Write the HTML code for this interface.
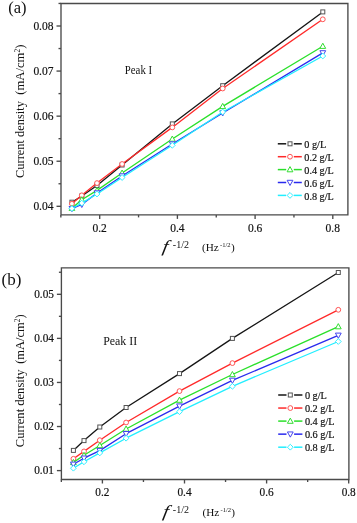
<!DOCTYPE html>
<html><head><meta charset="utf-8"><title>Current density vs f^-1/2</title><style>
html,body{margin:0;padding:0;background:#fff;width:357px;height:523px;overflow:hidden}
svg{display:block;will-change:transform}
text{font-family:"Liberation Serif", serif;fill:#111;stroke:#111;stroke-width:0} .tk text,text.tk{stroke-width:0.2px}
</style></head><body>
<svg width="357" height="523" viewBox="0 0 357 523">
<rect width="357" height="523" fill="#fff"/>
<path d="M61.0,3.5 H347.9 V214.9 H61.0 Z" fill="none" stroke="#4a4a4a" stroke-width="1.35"/>
<line x1="56.5" y1="206.30" x2="61.0" y2="206.30" stroke="#4a4a4a" stroke-width="1.35"/>
<text class="tk" x="53.5" y="210.00" font-size="12.65" textLength="20.12" lengthAdjust="spacingAndGlyphs" text-anchor="end">0.04</text>
<line x1="56.5" y1="161.23" x2="61.0" y2="161.23" stroke="#4a4a4a" stroke-width="1.35"/>
<text class="tk" x="53.5" y="164.93" font-size="12.65" textLength="20.12" lengthAdjust="spacingAndGlyphs" text-anchor="end">0.05</text>
<line x1="56.5" y1="116.15" x2="61.0" y2="116.15" stroke="#4a4a4a" stroke-width="1.35"/>
<text class="tk" x="53.5" y="119.85" font-size="12.65" textLength="20.12" lengthAdjust="spacingAndGlyphs" text-anchor="end">0.06</text>
<line x1="56.5" y1="71.07" x2="61.0" y2="71.07" stroke="#4a4a4a" stroke-width="1.35"/>
<text class="tk" x="53.5" y="74.77" font-size="12.65" textLength="20.12" lengthAdjust="spacingAndGlyphs" text-anchor="end">0.07</text>
<line x1="56.5" y1="26.00" x2="61.0" y2="26.00" stroke="#4a4a4a" stroke-width="1.35"/>
<text class="tk" x="53.5" y="29.70" font-size="12.65" textLength="20.12" lengthAdjust="spacingAndGlyphs" text-anchor="end">0.08</text>
<line x1="58.5" y1="183.76" x2="61.0" y2="183.76" stroke="#4a4a4a" stroke-width="1.35"/>
<line x1="58.5" y1="138.69" x2="61.0" y2="138.69" stroke="#4a4a4a" stroke-width="1.35"/>
<line x1="58.5" y1="93.61" x2="61.0" y2="93.61" stroke="#4a4a4a" stroke-width="1.35"/>
<line x1="58.5" y1="48.54" x2="61.0" y2="48.54" stroke="#4a4a4a" stroke-width="1.35"/>
<line x1="58.5" y1="3.46" x2="61.0" y2="3.46" stroke="#4a4a4a" stroke-width="1.35"/>
<line x1="99.70" y1="214.9" x2="99.70" y2="218.9" stroke="#4a4a4a" stroke-width="1.35"/>
<text class="tk" x="99.70" y="231.7" font-size="12.65" textLength="14.38" lengthAdjust="spacingAndGlyphs" text-anchor="middle">0.2</text>
<line x1="177.40" y1="214.9" x2="177.40" y2="218.9" stroke="#4a4a4a" stroke-width="1.35"/>
<text class="tk" x="177.40" y="231.7" font-size="12.65" textLength="14.38" lengthAdjust="spacingAndGlyphs" text-anchor="middle">0.4</text>
<line x1="255.10" y1="214.9" x2="255.10" y2="218.9" stroke="#4a4a4a" stroke-width="1.35"/>
<text class="tk" x="255.10" y="231.7" font-size="12.65" textLength="14.38" lengthAdjust="spacingAndGlyphs" text-anchor="middle">0.6</text>
<line x1="332.80" y1="214.9" x2="332.80" y2="218.9" stroke="#4a4a4a" stroke-width="1.35"/>
<text class="tk" x="332.80" y="231.7" font-size="12.65" textLength="14.38" lengthAdjust="spacingAndGlyphs" text-anchor="middle">0.8</text>
<line x1="60.85" y1="214.9" x2="60.85" y2="217.4" stroke="#4a4a4a" stroke-width="1.35"/>
<line x1="138.55" y1="214.9" x2="138.55" y2="217.4" stroke="#4a4a4a" stroke-width="1.35"/>
<line x1="216.25" y1="214.9" x2="216.25" y2="217.4" stroke="#4a4a4a" stroke-width="1.35"/>
<line x1="293.95" y1="214.9" x2="293.95" y2="217.4" stroke="#4a4a4a" stroke-width="1.35"/>
<polyline points="71.90,202.20 81.80,196.00 97.00,185.50 122.10,165.00 172.30,123.90 222.70,85.70 322.80,11.90" fill="none" stroke="#151515" stroke-width="1.3" stroke-linejoin="round"/>
<rect x="69.90" y="200.20" width="4.00" height="4.00" fill="#fff" stroke="#555555" stroke-width="1.0"/><rect x="79.80" y="194.00" width="4.00" height="4.00" fill="#fff" stroke="#555555" stroke-width="1.0"/><rect x="95.00" y="183.50" width="4.00" height="4.00" fill="#fff" stroke="#555555" stroke-width="1.0"/><rect x="120.10" y="163.00" width="4.00" height="4.00" fill="#fff" stroke="#555555" stroke-width="1.0"/><rect x="170.30" y="121.90" width="4.00" height="4.00" fill="#fff" stroke="#555555" stroke-width="1.0"/><rect x="220.70" y="83.70" width="4.00" height="4.00" fill="#fff" stroke="#555555" stroke-width="1.0"/><rect x="320.80" y="9.90" width="4.00" height="4.00" fill="#fff" stroke="#555555" stroke-width="1.0"/>
<polyline points="71.90,203.80 81.80,195.30 97.00,183.10 122.10,164.00 172.30,127.40 222.70,88.50 322.80,19.30" fill="none" stroke="#ff2a2a" stroke-width="1.3" stroke-linejoin="round"/>
<circle cx="71.90" cy="203.80" r="2.40" fill="#fff" stroke="#ff5555" stroke-width="1.0"/><circle cx="81.80" cy="195.30" r="2.40" fill="#fff" stroke="#ff5555" stroke-width="1.0"/><circle cx="97.00" cy="183.10" r="2.40" fill="#fff" stroke="#ff5555" stroke-width="1.0"/><circle cx="122.10" cy="164.00" r="2.40" fill="#fff" stroke="#ff5555" stroke-width="1.0"/><circle cx="172.30" cy="127.40" r="2.40" fill="#fff" stroke="#ff5555" stroke-width="1.0"/><circle cx="222.70" cy="88.50" r="2.40" fill="#fff" stroke="#ff5555" stroke-width="1.0"/><circle cx="322.80" cy="19.30" r="2.40" fill="#fff" stroke="#ff5555" stroke-width="1.0"/>
<polyline points="71.90,208.20 81.80,199.70 97.00,190.40 122.10,173.00 172.30,139.00 222.70,106.40 322.80,46.20" fill="none" stroke="#2ae02a" stroke-width="1.3" stroke-linejoin="round"/>
<path d="M71.90,205.20 L74.80,210.40 L69.00,210.40 Z" fill="#fff" stroke="#33dd33" stroke-width="1.0" stroke-linejoin="miter"/><path d="M81.80,196.70 L84.70,201.90 L78.90,201.90 Z" fill="#fff" stroke="#33dd33" stroke-width="1.0" stroke-linejoin="miter"/><path d="M97.00,187.40 L99.90,192.60 L94.10,192.60 Z" fill="#fff" stroke="#33dd33" stroke-width="1.0" stroke-linejoin="miter"/><path d="M122.10,170.00 L125.00,175.20 L119.20,175.20 Z" fill="#fff" stroke="#33dd33" stroke-width="1.0" stroke-linejoin="miter"/><path d="M172.30,136.00 L175.20,141.20 L169.40,141.20 Z" fill="#fff" stroke="#33dd33" stroke-width="1.0" stroke-linejoin="miter"/><path d="M222.70,103.40 L225.60,108.60 L219.80,108.60 Z" fill="#fff" stroke="#33dd33" stroke-width="1.0" stroke-linejoin="miter"/><path d="M322.80,43.20 L325.70,48.40 L319.90,48.40 Z" fill="#fff" stroke="#33dd33" stroke-width="1.0" stroke-linejoin="miter"/>
<polyline points="71.90,208.70 81.80,204.50 97.00,193.00 122.10,176.00 172.30,144.00 222.70,113.00 322.80,52.90" fill="none" stroke="#2a2aee" stroke-width="1.3" stroke-linejoin="round"/>
<path d="M71.90,211.70 L74.80,206.50 L69.00,206.50 Z" fill="#fff" stroke="#4444ee" stroke-width="1.0"/><path d="M81.80,207.50 L84.70,202.30 L78.90,202.30 Z" fill="#fff" stroke="#4444ee" stroke-width="1.0"/><path d="M97.00,196.00 L99.90,190.80 L94.10,190.80 Z" fill="#fff" stroke="#4444ee" stroke-width="1.0"/><path d="M122.10,179.00 L125.00,173.80 L119.20,173.80 Z" fill="#fff" stroke="#4444ee" stroke-width="1.0"/><path d="M172.30,147.00 L175.20,141.80 L169.40,141.80 Z" fill="#fff" stroke="#4444ee" stroke-width="1.0"/><path d="M222.70,116.00 L225.60,110.80 L219.80,110.80 Z" fill="#fff" stroke="#4444ee" stroke-width="1.0"/><path d="M322.80,55.90 L325.70,50.70 L319.90,50.70 Z" fill="#fff" stroke="#4444ee" stroke-width="1.0"/>
<polyline points="71.90,208.50 81.80,203.10 97.00,194.00 122.10,177.50 172.30,145.30 222.70,112.00 322.80,56.00" fill="none" stroke="#22eeff" stroke-width="1.3" stroke-linejoin="round"/>
<path d="M71.90,205.60 L74.80,208.50 L71.90,211.40 L69.00,208.50 Z" fill="#fff" stroke="#33eeff" stroke-width="1.0"/><path d="M81.80,200.20 L84.70,203.10 L81.80,206.00 L78.90,203.10 Z" fill="#fff" stroke="#33eeff" stroke-width="1.0"/><path d="M97.00,191.10 L99.90,194.00 L97.00,196.90 L94.10,194.00 Z" fill="#fff" stroke="#33eeff" stroke-width="1.0"/><path d="M122.10,174.60 L125.00,177.50 L122.10,180.40 L119.20,177.50 Z" fill="#fff" stroke="#33eeff" stroke-width="1.0"/><path d="M172.30,142.40 L175.20,145.30 L172.30,148.20 L169.40,145.30 Z" fill="#fff" stroke="#33eeff" stroke-width="1.0"/><path d="M222.70,109.10 L225.60,112.00 L222.70,114.90 L219.80,112.00 Z" fill="#fff" stroke="#33eeff" stroke-width="1.0"/><path d="M322.80,53.10 L325.70,56.00 L322.80,58.90 L319.90,56.00 Z" fill="#fff" stroke="#33eeff" stroke-width="1.0"/>
<line x1="277.8" y1="143.80" x2="286.2" y2="143.80" stroke="#151515" stroke-width="1.5"/>
<line x1="293.8" y1="143.80" x2="301.8" y2="143.80" stroke="#151515" stroke-width="1.5"/>
<rect x="288.00" y="141.80" width="4.00" height="4.00" fill="#fff" stroke="#555555" stroke-width="1.0"/>
<text class="tk" x="304.3" y="147.90" font-size="11.22" textLength="21.82" lengthAdjust="spacingAndGlyphs">0 g/L</text>
<line x1="277.8" y1="156.70" x2="286.2" y2="156.70" stroke="#ff2a2a" stroke-width="1.5"/>
<line x1="293.8" y1="156.70" x2="301.8" y2="156.70" stroke="#ff2a2a" stroke-width="1.5"/>
<circle cx="290.00" cy="156.70" r="2.40" fill="#fff" stroke="#ff5555" stroke-width="1.0"/>
<text class="tk" x="304.3" y="160.80" font-size="11.22" textLength="29.47" lengthAdjust="spacingAndGlyphs">0.2 g/L</text>
<line x1="277.8" y1="169.60" x2="286.2" y2="169.60" stroke="#2ae02a" stroke-width="1.5"/>
<line x1="293.8" y1="169.60" x2="301.8" y2="169.60" stroke="#2ae02a" stroke-width="1.5"/>
<path d="M290.00,166.60 L292.90,171.80 L287.10,171.80 Z" fill="#fff" stroke="#33dd33" stroke-width="1.0" stroke-linejoin="miter"/>
<text class="tk" x="304.3" y="173.70" font-size="11.22" textLength="29.47" lengthAdjust="spacingAndGlyphs">0.4 g/L</text>
<line x1="277.8" y1="182.50" x2="286.2" y2="182.50" stroke="#2a2aee" stroke-width="1.5"/>
<line x1="293.8" y1="182.50" x2="301.8" y2="182.50" stroke="#2a2aee" stroke-width="1.5"/>
<path d="M290.00,185.50 L292.90,180.30 L287.10,180.30 Z" fill="#fff" stroke="#4444ee" stroke-width="1.0"/>
<text class="tk" x="304.3" y="186.60" font-size="11.22" textLength="29.47" lengthAdjust="spacingAndGlyphs">0.6 g/L</text>
<line x1="277.8" y1="195.40" x2="286.2" y2="195.40" stroke="#22eeff" stroke-width="1.5"/>
<line x1="293.8" y1="195.40" x2="301.8" y2="195.40" stroke="#22eeff" stroke-width="1.5"/>
<path d="M290.00,192.50 L292.90,195.40 L290.00,198.30 L287.10,195.40 Z" fill="#fff" stroke="#33eeff" stroke-width="1.0"/>
<text class="tk" x="304.3" y="199.50" font-size="11.22" textLength="29.47" lengthAdjust="spacingAndGlyphs">0.8 g/L</text>
<text x="8.3" y="12.8" font-size="16.5">(a)</text><text class="tk" x="124.8" y="73.6" font-size="11.88" textLength="27.29" lengthAdjust="spacingAndGlyphs" style="stroke-width:0">Peak I</text><g transform="translate(24.0,177.9) rotate(-90)"><text x="0" y="0" font-size="12.4">Current density</text><text x="83.20" y="0" font-size="12.65">(mA/cm<tspan font-size="7.5" dy="-3.6">2</tspan><tspan dy="3.6">)</tspan></text></g><text transform="translate(161.8,251.5) skewX(-10) scale(1.2,1)" x="0" y="0" font-size="17" font-style="italic" style="stroke-width:0">f</text><text x="172.8" y="248" font-size="10">-1/2</text><text x="202" y="250.5" font-size="11.2">(Hz</text><text x="220" y="246.5" font-size="6.6">-1/2</text><text x="231" y="250.5" font-size="11.2">)</text>
<path d="M61.4,267.9 H348.9 V479.5 H61.4 Z" fill="none" stroke="#4a4a4a" stroke-width="1.35"/>
<line x1="56.9" y1="470.60" x2="61.4" y2="470.60" stroke="#4a4a4a" stroke-width="1.35"/>
<text class="tk" x="54.0" y="474.30" font-size="12.43" textLength="19.78" lengthAdjust="spacingAndGlyphs" text-anchor="end">0.01</text>
<line x1="56.9" y1="426.53" x2="61.4" y2="426.53" stroke="#4a4a4a" stroke-width="1.35"/>
<text class="tk" x="54.0" y="430.23" font-size="12.43" textLength="19.78" lengthAdjust="spacingAndGlyphs" text-anchor="end">0.02</text>
<line x1="56.9" y1="382.45" x2="61.4" y2="382.45" stroke="#4a4a4a" stroke-width="1.35"/>
<text class="tk" x="54.0" y="386.15" font-size="12.43" textLength="19.78" lengthAdjust="spacingAndGlyphs" text-anchor="end">0.03</text>
<line x1="56.9" y1="338.38" x2="61.4" y2="338.38" stroke="#4a4a4a" stroke-width="1.35"/>
<text class="tk" x="54.0" y="342.07" font-size="12.43" textLength="19.78" lengthAdjust="spacingAndGlyphs" text-anchor="end">0.04</text>
<line x1="56.9" y1="294.30" x2="61.4" y2="294.30" stroke="#4a4a4a" stroke-width="1.35"/>
<text class="tk" x="54.0" y="298.00" font-size="12.43" textLength="19.78" lengthAdjust="spacingAndGlyphs" text-anchor="end">0.05</text>
<line x1="58.9" y1="448.56" x2="61.4" y2="448.56" stroke="#4a4a4a" stroke-width="1.35"/>
<line x1="58.9" y1="404.49" x2="61.4" y2="404.49" stroke="#4a4a4a" stroke-width="1.35"/>
<line x1="58.9" y1="360.41" x2="61.4" y2="360.41" stroke="#4a4a4a" stroke-width="1.35"/>
<line x1="58.9" y1="316.34" x2="61.4" y2="316.34" stroke="#4a4a4a" stroke-width="1.35"/>
<line x1="58.9" y1="272.26" x2="61.4" y2="272.26" stroke="#4a4a4a" stroke-width="1.35"/>
<line x1="102.40" y1="479.5" x2="102.40" y2="483.5" stroke="#4a4a4a" stroke-width="1.35"/>
<text class="tk" x="102.40" y="496" font-size="12.43" textLength="14.12" lengthAdjust="spacingAndGlyphs" text-anchor="middle">0.2</text>
<line x1="184.50" y1="479.5" x2="184.50" y2="483.5" stroke="#4a4a4a" stroke-width="1.35"/>
<text class="tk" x="184.50" y="496" font-size="12.43" textLength="14.12" lengthAdjust="spacingAndGlyphs" text-anchor="middle">0.4</text>
<line x1="266.60" y1="479.5" x2="266.60" y2="483.5" stroke="#4a4a4a" stroke-width="1.35"/>
<text class="tk" x="266.60" y="496" font-size="12.43" textLength="14.12" lengthAdjust="spacingAndGlyphs" text-anchor="middle">0.6</text>
<line x1="348.70" y1="479.5" x2="348.70" y2="483.5" stroke="#4a4a4a" stroke-width="1.35"/>
<text class="tk" x="348.70" y="496" font-size="12.43" textLength="14.12" lengthAdjust="spacingAndGlyphs" text-anchor="middle">0.8</text>
<line x1="61.35" y1="479.5" x2="61.35" y2="482.0" stroke="#4a4a4a" stroke-width="1.35"/>
<line x1="143.45" y1="479.5" x2="143.45" y2="482.0" stroke="#4a4a4a" stroke-width="1.35"/>
<line x1="225.55" y1="479.5" x2="225.55" y2="482.0" stroke="#4a4a4a" stroke-width="1.35"/>
<line x1="307.65" y1="479.5" x2="307.65" y2="482.0" stroke="#4a4a4a" stroke-width="1.35"/>
<polyline points="73.40,450.40 84.00,440.60 99.80,427.00 126.10,407.50 179.50,373.60 232.40,338.40 338.30,272.50" fill="none" stroke="#151515" stroke-width="1.3" stroke-linejoin="round"/>
<rect x="71.40" y="448.40" width="4.00" height="4.00" fill="#fff" stroke="#555555" stroke-width="1.0"/><rect x="82.00" y="438.60" width="4.00" height="4.00" fill="#fff" stroke="#555555" stroke-width="1.0"/><rect x="97.80" y="425.00" width="4.00" height="4.00" fill="#fff" stroke="#555555" stroke-width="1.0"/><rect x="124.10" y="405.50" width="4.00" height="4.00" fill="#fff" stroke="#555555" stroke-width="1.0"/><rect x="177.50" y="371.60" width="4.00" height="4.00" fill="#fff" stroke="#555555" stroke-width="1.0"/><rect x="230.40" y="336.40" width="4.00" height="4.00" fill="#fff" stroke="#555555" stroke-width="1.0"/><rect x="336.30" y="270.50" width="4.00" height="4.00" fill="#fff" stroke="#555555" stroke-width="1.0"/>
<polyline points="73.40,458.80 84.00,451.40 99.80,440.20 126.10,422.50 179.50,391.10 232.40,363.10 338.30,309.80" fill="none" stroke="#ff2a2a" stroke-width="1.3" stroke-linejoin="round"/>
<circle cx="73.40" cy="458.80" r="2.40" fill="#fff" stroke="#ff5555" stroke-width="1.0"/><circle cx="84.00" cy="451.40" r="2.40" fill="#fff" stroke="#ff5555" stroke-width="1.0"/><circle cx="99.80" cy="440.20" r="2.40" fill="#fff" stroke="#ff5555" stroke-width="1.0"/><circle cx="126.10" cy="422.50" r="2.40" fill="#fff" stroke="#ff5555" stroke-width="1.0"/><circle cx="179.50" cy="391.10" r="2.40" fill="#fff" stroke="#ff5555" stroke-width="1.0"/><circle cx="232.40" cy="363.10" r="2.40" fill="#fff" stroke="#ff5555" stroke-width="1.0"/><circle cx="338.30" cy="309.80" r="2.40" fill="#fff" stroke="#ff5555" stroke-width="1.0"/>
<polyline points="73.40,462.40 84.00,455.30 99.80,445.50 126.10,429.00 179.50,400.10 232.40,374.50 338.30,326.60" fill="none" stroke="#2ae02a" stroke-width="1.3" stroke-linejoin="round"/>
<path d="M73.40,459.40 L76.30,464.60 L70.50,464.60 Z" fill="#fff" stroke="#33dd33" stroke-width="1.0" stroke-linejoin="miter"/><path d="M84.00,452.30 L86.90,457.50 L81.10,457.50 Z" fill="#fff" stroke="#33dd33" stroke-width="1.0" stroke-linejoin="miter"/><path d="M99.80,442.50 L102.70,447.70 L96.90,447.70 Z" fill="#fff" stroke="#33dd33" stroke-width="1.0" stroke-linejoin="miter"/><path d="M126.10,426.00 L129.00,431.20 L123.20,431.20 Z" fill="#fff" stroke="#33dd33" stroke-width="1.0" stroke-linejoin="miter"/><path d="M179.50,397.10 L182.40,402.30 L176.60,402.30 Z" fill="#fff" stroke="#33dd33" stroke-width="1.0" stroke-linejoin="miter"/><path d="M232.40,371.50 L235.30,376.70 L229.50,376.70 Z" fill="#fff" stroke="#33dd33" stroke-width="1.0" stroke-linejoin="miter"/><path d="M338.30,323.60 L341.20,328.80 L335.40,328.80 Z" fill="#fff" stroke="#33dd33" stroke-width="1.0" stroke-linejoin="miter"/>
<polyline points="73.40,464.30 84.00,458.20 99.80,450.60 126.10,433.70 179.50,406.10 232.40,380.40 338.30,335.30" fill="none" stroke="#2a2aee" stroke-width="1.3" stroke-linejoin="round"/>
<path d="M73.40,467.30 L76.30,462.10 L70.50,462.10 Z" fill="#fff" stroke="#4444ee" stroke-width="1.0"/><path d="M84.00,461.20 L86.90,456.00 L81.10,456.00 Z" fill="#fff" stroke="#4444ee" stroke-width="1.0"/><path d="M99.80,453.60 L102.70,448.40 L96.90,448.40 Z" fill="#fff" stroke="#4444ee" stroke-width="1.0"/><path d="M126.10,436.70 L129.00,431.50 L123.20,431.50 Z" fill="#fff" stroke="#4444ee" stroke-width="1.0"/><path d="M179.50,409.10 L182.40,403.90 L176.60,403.90 Z" fill="#fff" stroke="#4444ee" stroke-width="1.0"/><path d="M232.40,383.40 L235.30,378.20 L229.50,378.20 Z" fill="#fff" stroke="#4444ee" stroke-width="1.0"/><path d="M338.30,338.30 L341.20,333.10 L335.40,333.10 Z" fill="#fff" stroke="#4444ee" stroke-width="1.0"/>
<polyline points="73.40,468.20 84.00,461.80 99.80,452.90 126.10,438.20 179.50,411.70 232.40,386.30 338.30,341.50" fill="none" stroke="#22eeff" stroke-width="1.3" stroke-linejoin="round"/>
<path d="M73.40,465.30 L76.30,468.20 L73.40,471.10 L70.50,468.20 Z" fill="#fff" stroke="#33eeff" stroke-width="1.0"/><path d="M84.00,458.90 L86.90,461.80 L84.00,464.70 L81.10,461.80 Z" fill="#fff" stroke="#33eeff" stroke-width="1.0"/><path d="M99.80,450.00 L102.70,452.90 L99.80,455.80 L96.90,452.90 Z" fill="#fff" stroke="#33eeff" stroke-width="1.0"/><path d="M126.10,435.30 L129.00,438.20 L126.10,441.10 L123.20,438.20 Z" fill="#fff" stroke="#33eeff" stroke-width="1.0"/><path d="M179.50,408.80 L182.40,411.70 L179.50,414.60 L176.60,411.70 Z" fill="#fff" stroke="#33eeff" stroke-width="1.0"/><path d="M232.40,383.40 L235.30,386.30 L232.40,389.20 L229.50,386.30 Z" fill="#fff" stroke="#33eeff" stroke-width="1.0"/><path d="M338.30,338.60 L341.20,341.50 L338.30,344.40 L335.40,341.50 Z" fill="#fff" stroke="#33eeff" stroke-width="1.0"/>
<line x1="278.2" y1="395.00" x2="286.5" y2="395.00" stroke="#151515" stroke-width="1.5"/>
<line x1="294.1" y1="395.00" x2="302.4" y2="395.00" stroke="#151515" stroke-width="1.5"/>
<rect x="288.30" y="393.00" width="4.00" height="4.00" fill="#fff" stroke="#555555" stroke-width="1.0"/>
<text class="tk" x="304.9" y="398.90" font-size="11.33" textLength="22.03" lengthAdjust="spacingAndGlyphs">0 g/L</text>
<line x1="278.2" y1="408.05" x2="286.5" y2="408.05" stroke="#ff2a2a" stroke-width="1.5"/>
<line x1="294.1" y1="408.05" x2="302.4" y2="408.05" stroke="#ff2a2a" stroke-width="1.5"/>
<circle cx="290.30" cy="408.05" r="2.40" fill="#fff" stroke="#ff5555" stroke-width="1.0"/>
<text class="tk" x="304.9" y="411.95" font-size="11.33" textLength="29.76" lengthAdjust="spacingAndGlyphs">0.2 g/L</text>
<line x1="278.2" y1="421.10" x2="286.5" y2="421.10" stroke="#2ae02a" stroke-width="1.5"/>
<line x1="294.1" y1="421.10" x2="302.4" y2="421.10" stroke="#2ae02a" stroke-width="1.5"/>
<path d="M290.30,418.10 L293.20,423.30 L287.40,423.30 Z" fill="#fff" stroke="#33dd33" stroke-width="1.0" stroke-linejoin="miter"/>
<text class="tk" x="304.9" y="425.00" font-size="11.33" textLength="29.76" lengthAdjust="spacingAndGlyphs">0.4 g/L</text>
<line x1="278.2" y1="434.15" x2="286.5" y2="434.15" stroke="#2a2aee" stroke-width="1.5"/>
<line x1="294.1" y1="434.15" x2="302.4" y2="434.15" stroke="#2a2aee" stroke-width="1.5"/>
<path d="M290.30,437.15 L293.20,431.95 L287.40,431.95 Z" fill="#fff" stroke="#4444ee" stroke-width="1.0"/>
<text class="tk" x="304.9" y="438.05" font-size="11.33" textLength="29.76" lengthAdjust="spacingAndGlyphs">0.6 g/L</text>
<line x1="278.2" y1="447.20" x2="286.5" y2="447.20" stroke="#22eeff" stroke-width="1.5"/>
<line x1="294.1" y1="447.20" x2="302.4" y2="447.20" stroke="#22eeff" stroke-width="1.5"/>
<path d="M290.30,444.30 L293.20,447.20 L290.30,450.10 L287.40,447.20 Z" fill="#fff" stroke="#33eeff" stroke-width="1.0"/>
<text class="tk" x="304.9" y="451.10" font-size="11.33" textLength="29.76" lengthAdjust="spacingAndGlyphs">0.8 g/L</text>
<text x="1.5" y="285" font-size="17">(b)</text><text class="tk" x="103.2" y="345.4" font-size="13.09" textLength="34.03" lengthAdjust="spacingAndGlyphs" style="stroke-width:0">Peak II</text><g transform="translate(23.6,447.2) rotate(-90)"><text x="0" y="0" font-size="12.55">Current density</text><text x="83.40" y="0" font-size="12.5">(mA/cm<tspan font-size="7.5" dy="-3.6">2</tspan><tspan dy="3.6">)</tspan></text></g><text transform="translate(162.3,516.5) skewX(-10) scale(1.2,1)" x="0" y="0" font-size="17" font-style="italic" style="stroke-width:0">f</text><text x="172.8" y="513" font-size="10">-1/2</text><text x="202.5" y="516" font-size="11.2">(Hz</text><text x="220.5" y="512" font-size="6.6">-1/2</text><text x="231.3" y="516" font-size="11.2">)</text>
</svg>
</body></html>
